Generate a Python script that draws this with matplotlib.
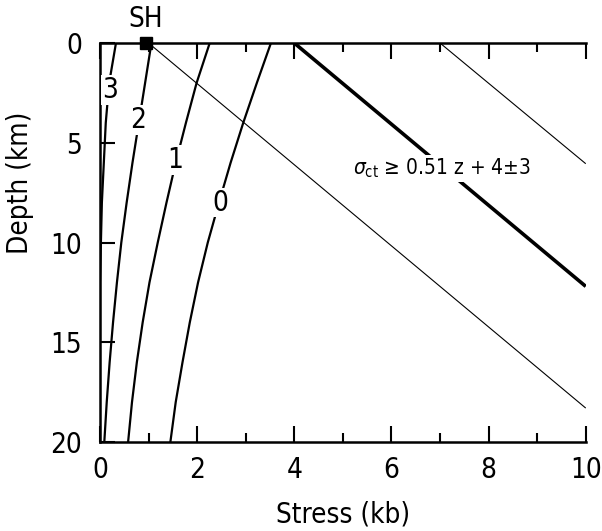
import matplotlib
matplotlib.use("Agg")
import matplotlib.pyplot as plt
from matplotlib.ticker import MultipleLocator

plt.rcParams['font.family'] = ['DejaVu Sans']
plt.rcParams['font.stretch'] = 'condensed'

# curves labelled 3, 2, 1, 0 : depth (km) -> stress (kb)
depth_c = [0, 2, 4, 6, 8, 10, 12, 14, 16, 18, 20]
stress_c0 = [3.52, 3.23, 2.95, 2.69, 2.45, 2.22, 2.02, 1.85, 1.70, 1.56, 1.45]
stress_c1 = [2.26, 1.99, 1.77, 1.56, 1.37, 1.19, 1.02, 0.88, 0.76, 0.66, 0.58]
stress_c2 = [1.06, 0.93, 0.80, 0.67, 0.55, 0.44, 0.35, 0.27, 0.20, 0.14, 0.09]
depth_c3 = [0, 2, 4, 6, 8, 10, 12, 20]
stress_c3 = [0.33, 0.19, 0.12, 0.08, 0.04, 0.02, 0.0, 0.0]

curve_labels = ['0', '1', '2', '3']
label_stress = [2.47, 1.54, 0.78, 0.20]
label_depth = [8.0, 5.85, 3.85, 2.35]

# sigma_ct >= 0.51 z + 4 +- 3
line_stress = [[1, 10], [4, 10], [7, 10]]
line_depth = [[0, 18.3], [0, 12.2], [0, 6.05]]
line_width = [0.8, 2.6, 0.8]

sh_stress, sh_depth = 0.95, 0.0

fig = plt.figure(figsize=(6.02, 5.31), dpi=100)
ax = fig.add_axes([0.166, 0.1676, 0.807, 0.7514])

for xs, ys, lw in zip(line_stress, line_depth, line_width):
    ax.plot(xs, ys, color='black', lw=lw, solid_capstyle='butt')

ax.plot(stress_c0, depth_c, color='black', lw=1.6)
ax.plot(stress_c1, depth_c, color='black', lw=1.6)
ax.plot(stress_c2, depth_c, color='black', lw=1.6)
ax.plot(stress_c3, depth_c3, color='black', lw=1.6)

for lab, x, y in zip(curve_labels, label_stress, label_depth):
    ax.text(x, y, lab, fontsize=20, ha='center', va='center', zorder=5,
            bbox=dict(facecolor='white', edgecolor='none', pad=0.5))

ax.text(7.05, 6.3, r'$\sigma_{\rm ct}$ ≥ 0.51 z + 4±3', fontsize=15,
        ha='center', va='center', zorder=5,
        bbox=dict(facecolor='white', edgecolor='none', pad=1))

ax.plot(sh_stress, sh_depth, 's', color='black', ms=8, clip_on=False, zorder=6)
ax.text(sh_stress, -1.2, 'SH', fontsize=20, ha='center', va='center')

ax.set_xlim(0, 10)
ax.set_ylim(20, 0)
ax.spines['right'].set_visible(False)
for s in ['left', 'top', 'bottom']:
    ax.spines[s].set_linewidth(1.8)

ax.xaxis.set_major_locator(MultipleLocator(2))
ax.xaxis.set_minor_locator(MultipleLocator(1))
ax.yaxis.set_major_locator(MultipleLocator(5))
ax.tick_params(axis='x', which='both', direction='in', top=True, bottom=True,
               labelsize=20, pad=10, width=1.5)
ax.tick_params(axis='x', which='major', length=11.5)
ax.tick_params(axis='x', which='minor', length=6.5)
ax.tick_params(axis='y', direction='in', left=True, right=False, length=11,
               width=1.5, labelsize=20, pad=13)

ax.set_xlabel('Stress (kb)', fontsize=20, labelpad=12)
ax.set_ylabel('Depth (km)', fontsize=20)
ax.yaxis.set_label_coords(-0.135, 0.65)

fig.savefig('out.png', dpi=100)
